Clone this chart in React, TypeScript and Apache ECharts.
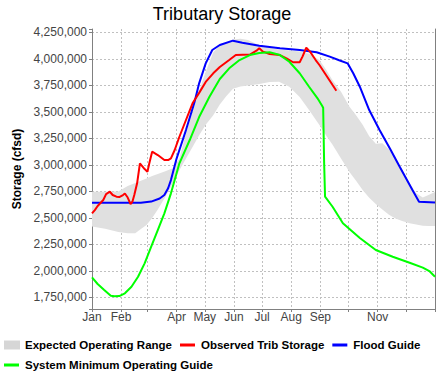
import React, { useEffect, useRef } from "react";
import * as echarts from "echarts";

// ---- axis structure ----
const months = ["Jan", "Feb", "Mar", "Apr", "May", "Jun", "Jul", "Aug", "Sep", "Oct", "Nov", "Dec"];
const monthStartDays = [0, 31, 59, 90, 120, 151, 181, 212, 243, 273, 304, 334];
const labeledMonths = ["Jan", "Feb", "Apr", "May", "Jun", "Jul", "Aug", "Sep", "Nov"];
const yMin = 1640000;
const yMax = 4283000;
const yStep = 250000;

// ---- Expected Operating Range (day of year, lower / upper bound) ----
const bandDays = [0, 14, 28, 38, 46, 52, 58, 64, 70, 78, 86, 93, 100, 107, 114, 121, 129, 136, 143, 150, 158, 166, 178, 189, 199, 210, 221, 231, 242, 249, 256, 265, 274, 281, 288, 295, 302, 309, 316, 323, 330, 338, 345, 352, 358, 365];
const bandLower = [2418000, 2398000, 2368000, 2354000, 2356000, 2395000, 2432000, 2500000, 2580000, 2697000, 2826000, 2950000, 3060000, 3170000, 3280000, 3380000, 3470000, 3570000, 3650000, 3720000, 3740000, 3750000, 3764000, 3783000, 3786000, 3738000, 3641000, 3518000, 3377000, 3280000, 3190000, 3060000, 2933000, 2850000, 2763000, 2690000, 2631000, 2580000, 2530000, 2495000, 2470000, 2449000, 2437000, 2427000, 2423000, 2423000];
const bandUpper = [2747000, 2747000, 2750000, 2800000, 2830000, 2850000, 2873000, 2895000, 2915000, 2940000, 2968000, 3060000, 3300000, 3500000, 3700000, 3880000, 4060000, 4130000, 4160000, 4185000, 4190000, 4180000, 4130000, 4105000, 4090000, 4080000, 4070000, 4050000, 3990000, 3900000, 3800000, 3690000, 3550000, 3470000, 3380000, 3270000, 3200000, 3205000, 3145000, 3050000, 2950000, 2826000, 2732000, 2692000, 2715000, 2744000];

// ---- Observed Trib Storage ----
const observedDays = [0, 3, 6, 12, 15, 19, 22, 26, 29, 33, 35, 38, 41, 43, 45, 48, 51, 56, 59, 61, 64, 70, 77, 81, 84, 88, 93, 100, 107, 114, 121, 129, 136, 146, 153, 168, 175, 178, 182, 189, 200, 207, 214, 221, 224, 228, 232, 238, 242, 249, 256, 260];
const observedValues = [2543000, 2574000, 2612000, 2669000, 2725000, 2747000, 2716000, 2700000, 2697000, 2716000, 2730000, 2692000, 2631000, 2653000, 2716000, 2826000, 3015000, 2961000, 2936000, 3015000, 3125000, 3093000, 3046000, 3046000, 3062000, 3141000, 3266000, 3424000, 3582000, 3680000, 3783000, 3865000, 3924000, 3990000, 4037000, 4042000, 4078000, 4101000, 4069000, 4047000, 4037000, 4006000, 3969000, 3969000, 4022000, 4106000, 4069000, 3990000, 3943000, 3849000, 3754000, 3700000];

// ---- Flood Guide ----
const floodDays = [0, 52, 63, 72, 77, 81, 84, 90, 93, 100, 109, 114, 121, 128, 136, 150, 160, 178, 200, 221, 239, 253, 263, 272, 278, 285, 295, 306, 317, 327, 341, 348, 365];
const floodValues = [2643000, 2643000, 2654000, 2683000, 2716000, 2780000, 2857000, 3060000, 3141000, 3329000, 3590000, 3770000, 3959000, 4085000, 4132000, 4173000, 4154000, 4125000, 4101000, 4085000, 4063000, 4022000, 3988000, 3959000, 3865000, 3738000, 3518000, 3329000, 3155000, 2990000, 2763000, 2653000, 2645000];

// ---- System Minimum Operating Guide ----
const minGuideDays = [0, 6, 13, 20, 24, 29, 35, 42, 49, 56, 63, 70, 77, 84, 88, 93, 104, 114, 125, 136, 146, 157, 168, 178, 189, 200, 210, 221, 231, 240, 245, 246, 247, 248, 256, 267, 285, 302, 320, 338, 352, 359, 365];
const minGuideValues = [1939000, 1876000, 1819000, 1765000, 1760000, 1762000, 1788000, 1850000, 1944000, 2071000, 2228000, 2385000, 2543000, 2732000, 2857000, 3015000, 3235000, 3452000, 3644000, 3811000, 3912000, 3990000, 4037000, 4056000, 4063000, 4037000, 3974000, 3865000, 3738000, 3629000, 3556000, 3540000, 3030000, 2700000, 2605000, 2449000, 2310000, 2197000, 2133000, 2077000, 2031000, 1998000, 1944000];

const dayCategories = Array.from({ length: 366 }, (_, i) => {
  const m = monthStartDays.indexOf(i);
  return m >= 0 ? months[m] : "d" + i;
});

const pairs = (days: number[], vals: number[]) => days.map((d, i) => [d, vals[i]]);
const lineIcon = "path://M0,0M16,9M0,3h15v3h-15z";
const FONT = "Liberation Sans, Arial, sans-serif";
const GRID_COLOR = "#c0c0c0";
// 13 split lines at most (edge ticks included): hide the one at the top edge
const gridColors = [...Array(12).fill(GRID_COLOR), "rgba(0,0,0,0)"];

export default function App() {
  const ref = useRef<HTMLDivElement>(null);
  useEffect(() => {
    if (!ref.current) return;
    const chart = echarts.init(ref.current, null, { renderer: "svg" });
    chart.setOption({
      animation: false,
      backgroundColor: "#ffffff",
      textStyle: { fontFamily: FONT },
      title: {
        text: "Tributary Storage",
        left: "center",
        top: 0,
        textStyle: { fontSize: 18, fontWeight: "normal", color: "#000", fontFamily: FONT },
      },
      legend: {
        left: 4,
        top: 339,
        width: 436,
        padding: 0,
        itemWidth: 16,
        itemHeight: 9,
        itemGap: 8,
        textStyle: { fontSize: 11.5, lineHeight: 12, fontWeight: "bold", color: "#000", fontFamily: FONT },
        data: [
          { name: "Expected Operating Range", icon: "rect", itemStyle: { color: "#d6d6d6" } },
          { name: "Observed Trib Storage", icon: lineIcon, itemStyle: { color: "#ff0000" } },
          { name: "Flood Guide", icon: lineIcon, itemStyle: { color: "#0000ff" } },
          { name: "System Minimum Operating Guide", icon: lineIcon, itemStyle: { color: "#00ff00" } },
        ],
      },
      grid: { left: 92, right: 9, top: 29, bottom: 68, containLabel: false },
      xAxis: {
        type: "category",
        data: dayCategories,
        boundaryGap: false,
        axisLine: { lineStyle: { color: "#808080", width: 1 } },
        axisTick: {
          show: true,
          length: 3,
          interval: (index: number) => monthStartDays.includes(index) || index === 365,
          lineStyle: { color: "#808080" },
        },
        axisLabel: {
          interval: (_index: number, value: string) => labeledMonths.includes(value),
          margin: 2,
          fontSize: 12,
          color: "#444",
          fontFamily: FONT,
        },
        splitLine: {
          show: true,
          interval: (index: number) => index > 0 && monthStartDays.includes(index),
          lineStyle: { color: GRID_COLOR, type: [2, 2], width: 1 },
        },
      },
      yAxis: [
        {
          type: "value",
          min: yMin,
          max: yMax,
          minInterval: yStep,
          maxInterval: yStep,
          splitNumber: 10,
          name: "Storage (cfsd)",
          nameLocation: "middle",
          nameRotate: 90,
          nameGap: 67,
          nameTextStyle: { fontSize: 12, fontWeight: "bold", color: "#000", fontFamily: FONT },
          axisLine: { show: true, lineStyle: { color: "#808080", width: 1 } },
          axisTick: { show: true, length: 3, lineStyle: { color: "#808080" } },
          axisLabel: {
            margin: 5,
            fontSize: 12,
            color: "#444",
            fontFamily: FONT,
            formatter: (v: number) =>
              Math.abs(v % yStep) < 1 ? Math.round(v).toLocaleString("en-US") : "",
          },
          splitLine: { show: true, lineStyle: { color: gridColors, type: [2, 2], width: 1 } },
        },
        {
          type: "value",
          position: "right",
          min: yMin,
          max: yMax,
          axisLine: { show: true, lineStyle: { color: "#808080", width: 1 } },
          axisTick: { show: false },
          axisLabel: { show: false },
          splitLine: { show: false },
        },
      ],
      series: [
        {
          name: "_bandBase",
          type: "line",
          stack: "band",
          data: pairs(bandDays, bandLower),
          symbol: "none",
          lineStyle: { width: 0 },
          silent: true,
        },
        {
          name: "Expected Operating Range",
          type: "line",
          stack: "band",
          color: "#e0e0e0",
          data: pairs(
            bandDays,
            bandUpper.map((u, i) => u - bandLower[i])
          ),
          symbol: "none",
          lineStyle: { width: 0 },
          areaStyle: { color: "#e0e0e0", opacity: 1 },
          silent: true,
        },
        {
          name: "Flood Guide",
          type: "line",
          color: "#0000ff",
          data: pairs(floodDays, floodValues),
          symbol: "none",
          lineStyle: { width: 2, color: "#0000ff" },
        },
        {
          name: "Observed Trib Storage",
          type: "line",
          color: "#ff0000",
          data: pairs(observedDays, observedValues),
          symbol: "none",
          lineStyle: { width: 2, color: "#ff0000" },
        },
        {
          name: "System Minimum Operating Guide",
          type: "line",
          color: "#00ff00",
          data: pairs(minGuideDays, minGuideValues),
          symbol: "none",
          lineStyle: { width: 2, color: "#00ff00" },
        },
      ],
    });
    return () => chart.dispose();
  }, []);
  return <div ref={ref} style={{ width: 444, height: 377, position: "absolute", left: 0, top: 0 }} />;
}
